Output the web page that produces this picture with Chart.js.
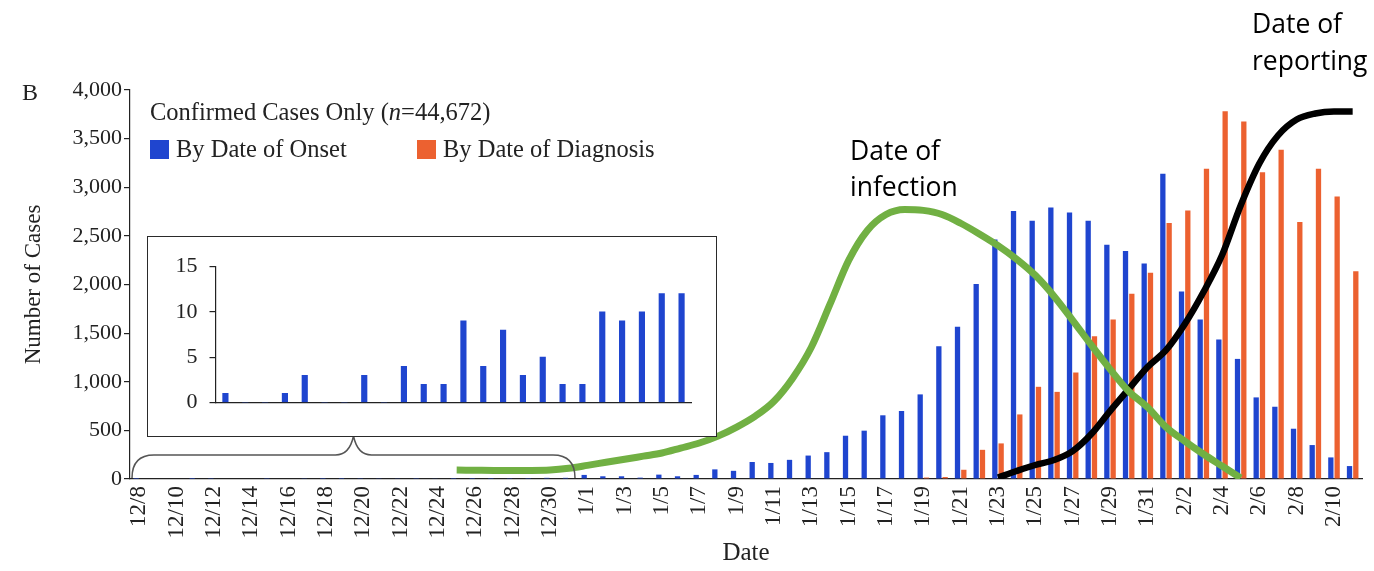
<!DOCTYPE html>
<html>
<head>
<meta charset="utf-8">
<script src="https://cdn.jsdelivr.net/npm/chart.js@4.4.1/dist/chart.umd.min.js"></script>
<style>
  body { margin: 0; background: #fff; }
  #wrap { position: relative; width: 1374px; height: 571px; }
  #main { position: absolute; left: 0; top: 0; }
  #insetBox { position: absolute; left: 147px; top: 236px; width: 570px; height: 201px;
    border: 1.5px solid #2a2a2a; box-sizing: border-box; background: #fff; }
</style>
</head>
<body>
<div id="wrap">
  <canvas id="main" width="1374" height="571"></canvas>
  <div id="insetBox"><canvas id="inset" width="567" height="198"></canvas></div>
</div>
<script>
const dates = [
  '12/8','12/9','12/10','12/11','12/12','12/13','12/14','12/15','12/16','12/17','12/18','12/19',
  '12/20','12/21','12/22','12/23','12/24','12/25','12/26','12/27','12/28','12/29','12/30','12/31',
  '1/1','1/2','1/3','1/4','1/5','1/6','1/7','1/8','1/9','1/10','1/11','1/12','1/13','1/14','1/15',
  '1/16','1/17','1/18','1/19','1/20','1/21','1/22','1/23','1/24','1/25','1/26','1/27','1/28',
  '1/29','1/30','1/31','2/1','2/2','2/3','2/4','2/5','2/6','2/7','2/8','2/9','2/10','2/11'
];

// cases by date of onset (blue)
const onset = [
  1, 0, 0, 1, 3, 0, 0, 3, 0, 4, 2, 2, 9, 4, 8, 3, 5, 2, 2, 10, 9, 10, 12, 12,
  42, 28, 28, 14, 45, 28, 42, 99, 84, 175, 165, 197, 241, 276,
  445, 497, 655, 699, 870, 1366, 1565, 2005, 2462, 2757, 2655, 2792, 2740, 2655, 2409, 2344, 2215,
  3139, 1927, 1640, 1434, 1235, 839, 743, 517, 349, 222, 133
];

// cases by date of diagnosis (orange)
const diagnosis = [
  0, 0, 0, 0, 0, 0, 0, 0, 0, 0, 0, 0, 0, 0, 0, 0, 0, 0, 0, 0, 0, 0, 0, 0,
  0, 0, 0, 0, 0, 0, 0, 0, 0, 0, 0, 0, 0, 0,
  0, 0, 0, 0, 15, 20, 95, 300, 366, 664, 948, 896, 1095, 1468, 1640, 1906, 2122,
  2632, 2762, 3190, 3781, 3676, 3155, 3385, 2642, 3190, 2905, 2136
];

// hand drawn "date of infection" curve (green)
const infection = [
  null, null, null, null, null, null, null, null, null, null, null, null,
  null, null, null, null, null, 92, 90, 88, 88, 88, 92, 110,
  140, 172, 203, 235, 267, 318, 370, 441, 534, 647, 800, 1037, 1355, 1797,
  2248, 2556, 2720, 2772, 2762, 2720, 2630, 2520, 2400, 2260, 2094, 1880, 1632, 1376, 1130, 903, 740,
  534, 390, 257, 133, 10, null, null, null, null, null, null
];

// hand drawn "date of reporting" curve (black)
const reporting = [
  null, null, null, null, null, null, null, null, null, null, null, null,
  null, null, null, null, null, null, null, null, null, null, null, null,
  null, null, null, null, null, null, null, null, null, null, null, null, null, null,
  null, null, null, null, null, null, null, null, 15, 82, 144, 195, 287, 462, 698, 924, 1150,
  1324, 1591, 1920, 2300, 2813, 3244, 3532, 3696, 3758, 3778, 3778
];

const decCount = 24;
const insetValues = onset.slice(0, decCount);
const yTicks = [0, 500, 1000, 1500, 2000, 2500, 3000, 3500, 4000];

const BLUE = '#1f45cf';
const ORANGE = '#ec6130';
const GREEN = '#71b043';
const TXT = '#222';
const SERIF = "'Liberation Serif', 'DejaVu Serif', serif";
const SANS = "'Open Sans', 'Noto Sans', sans-serif";

const extras = {
  id: 'extras',
  afterDraw(chart) {
    const { ctx, scales: { x, y } } = chart;
    ctx.save();
    ctx.fillStyle = TXT;
    ctx.textBaseline = 'alphabetic';

    // panel letter
    ctx.font = '24px ' + SERIF;
    ctx.fillText('B', 22, 100);

    // legend
    ctx.font = '24.5px ' + SERIF;
    let lx = 150;
    const t1 = 'Confirmed Cases Only (';
    ctx.fillText(t1, lx, 120);
    lx += ctx.measureText(t1).width;
    ctx.font = 'italic 24.5px ' + SERIF;
    ctx.fillText('n', lx, 120);
    lx += ctx.measureText('n').width;
    ctx.font = '24.5px ' + SERIF;
    ctx.fillText('=44,672)', lx, 120);

    ctx.fillStyle = BLUE;
    ctx.fillRect(150, 140, 19, 19);
    ctx.fillStyle = ORANGE;
    ctx.fillRect(417, 140, 19, 19);
    ctx.fillStyle = TXT;
    ctx.fillText('By Date of Onset', 176, 157);
    ctx.fillText('By Date of Diagnosis', 443, 157);

    // brace under the December range
    const step = (x.right - x.left) / dates.length;
    const xl = x.left + 2;
    const xr = x.left + decCount * step - 3;
    const xm = (xl + xr) / 2;
    const yb = y.getPixelForValue(0) - 1;
    const yt = 455;
    const tip = 436;
    ctx.strokeStyle = '#555';
    ctx.lineWidth = 1.5;
    ctx.beginPath();
    ctx.moveTo(xl, yb);
    ctx.quadraticCurveTo(xl, yt, xl + 22, yt);
    ctx.lineTo(xm - 18, yt);
    ctx.quadraticCurveTo(xm - 4, yt, xm, tip);
    ctx.quadraticCurveTo(xm + 4, yt, xm + 18, yt);
    ctx.lineTo(xr - 22, yt);
    ctx.quadraticCurveTo(xr, yt, xr, yb);
    ctx.stroke();

    // annotations
    ctx.fillStyle = '#000';
    ctx.font = '26.5px ' + SANS;
    ctx.fillText('Date of', 850, 160);
    ctx.fillText('infection', 850, 196);
    ctx.fillText('Date of', 1252, 33);
    ctx.fillText('reporting', 1252, 70);
    ctx.restore();
  }
};

new Chart(document.getElementById('main'), {
  type: 'bar',
  data: {
    labels: dates,
    datasets: [
      { type: 'line', label: 'Date of infection', data: infection, borderColor: GREEN,
        borderWidth: 7, pointRadius: 0, cubicInterpolationMode: 'monotone', order: 0 },
      { type: 'line', label: 'Date of reporting', data: reporting, borderColor: '#000',
        borderWidth: 6.5, pointRadius: 0, cubicInterpolationMode: 'monotone', order: 0 },
      { label: 'By Date of Onset', data: onset, backgroundColor: BLUE, order: 1,
        categoryPercentage: 0.675, barPercentage: 0.84 },
      { label: 'By Date of Diagnosis', data: diagnosis, backgroundColor: ORANGE, order: 1,
        categoryPercentage: 0.675, barPercentage: 0.84 }
    ]
  },
  options: {
    responsive: false,
    animation: false,
    layout: { padding: { top: 90, right: 12, left: 0, bottom: 0 } },
    plugins: { legend: { display: false }, tooltip: { enabled: false } },
    scales: {
      x: {
        grid: { display: false, drawTicks: false },
        border: { display: true, color: '#222', width: 1.2 },
        ticks: {
          autoSkip: false, maxRotation: 90, minRotation: 90, padding: 7,
          color: TXT, font: { family: SERIF, size: 23 },
          callback: (v, i) => (i % 2 === 0 ? dates[i] : '')
        },
        title: { display: true, text: 'Date', color: TXT, font: { family: SERIF, size: 25 },
          padding: { top: 0, bottom: 3 } },
        afterFit: s => { s.height = 92; s.paddingLeft = 0; s.paddingRight = 0; }
      },
      y: {
        min: 0, max: 4000,
        afterBuildTicks: s => { s.ticks = yTicks.map(v => ({ value: v })); },
        grid: { drawOnChartArea: false, drawTicks: true, tickLength: 6, color: '#222', lineWidth: 1.2 },
        border: { display: true, color: '#222', width: 1.2 },
        ticks: { padding: 2, color: TXT, font: { family: SERIF, size: 22 },
          callback: v => v.toLocaleString('en-US') },
        title: { display: true, text: 'Number of Cases', color: TXT, font: { family: SERIF, size: 23 },
          padding: { top: 20, bottom: 0 } },
        afterFit: s => { s.width = 130; }
      }
    }
  },
  plugins: [extras]
});

new Chart(document.getElementById('inset'), {
  type: 'bar',
  data: {
    labels: dates.slice(0, decCount),
    datasets: [{ data: insetValues, backgroundColor: BLUE, barThickness: 5.5 }]
  },
  options: {
    responsive: false,
    animation: false,
    layout: { padding: { top: 29.5, right: 23.5, left: 0, bottom: 32.5 } },
    plugins: { legend: { display: false }, tooltip: { enabled: false } },
    scales: {
      x: {
        grid: { display: false, drawTicks: false },
        border: { display: true, color: '#222', width: 1.2 },
        ticks: { display: false },
        afterFit: s => { s.height = 0; }
      },
      y: {
        min: 0, max: 15,
        ticks: { stepSize: 5, padding: 12, color: TXT, font: { family: SERIF, size: 22 } },
        grid: { drawOnChartArea: false, drawTicks: true, tickLength: 6, color: '#222', lineWidth: 1.2 },
        border: { display: true, color: '#222', width: 1.2 },
        afterFit: s => { s.width = 67.5; }
      }
    }
  }
});
</script>
</body>
</html>
